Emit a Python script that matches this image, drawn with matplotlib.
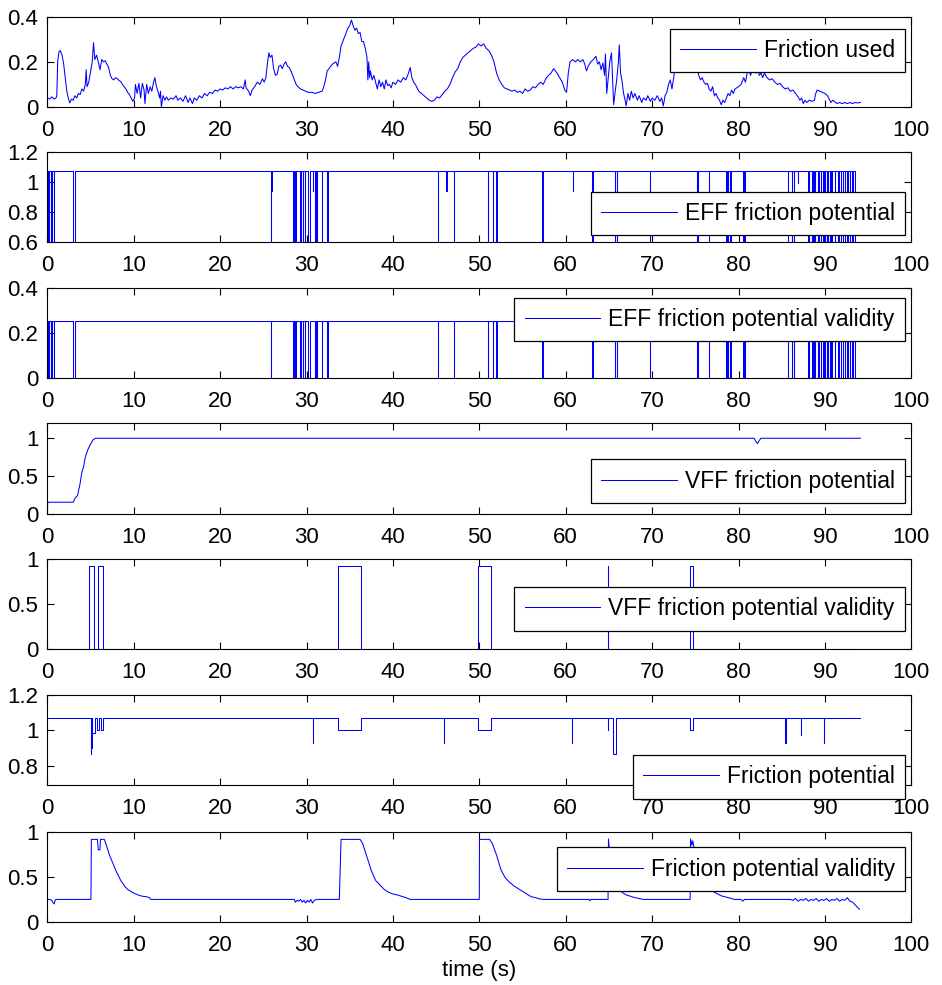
import numpy as np
import matplotlib
matplotlib.use("Agg")
import matplotlib.pyplot as plt
from matplotlib.ticker import FormatStrFormatter

plt.rcParams['font.family'] = ['Liberation Sans', 'DejaVu Sans']

T_END = 94.1

# ---- Friction used (time, value) ----
fu_t = [0.0, 0.3, 0.5, 0.8, 1.0, 1.1, 1.2, 1.35, 1.5, 1.7, 1.9, 2.1, 2.3, 2.5, 2.6, 2.8, 3.0, 3.2, 3.4, 3.6,
        3.8, 4.0, 4.2, 4.4, 4.5, 4.6, 4.8, 5.0, 5.2, 5.35, 5.5, 5.7, 5.9, 6.1, 6.3, 6.5, 6.7, 6.9, 7.1, 7.3,
        7.5, 7.7, 7.9, 8.1, 8.3, 8.5, 8.7, 8.9, 9.1, 9.3, 9.5, 9.7, 9.9, 10.1, 10.2, 10.4, 10.6, 10.8, 11.0, 11.2,
        11.3, 11.5, 11.7, 11.9, 12.1, 12.3, 12.45, 12.6, 12.8, 13.0, 13.1, 13.2, 13.4, 13.6, 13.8, 14.0, 14.3, 14.6, 14.9, 15.1,
        15.4, 15.7, 16.0, 16.3, 16.5, 16.8, 17.0, 17.3, 17.6, 17.9, 18.2, 18.5, 18.8, 19.1, 19.4, 19.7, 20.0, 20.3, 20.6, 20.9,
        21.2, 21.5, 21.8, 22.1, 22.4, 22.7, 22.9, 23.0, 23.3, 23.5, 23.7, 24.0, 24.3, 24.6, 24.9, 25.1, 25.3, 25.5, 25.65, 25.8,
        26.0, 26.2, 26.4, 26.6, 26.8, 27.0, 27.2, 27.4, 27.6, 27.8, 28.0, 28.2, 28.4, 28.6, 28.8, 29.0, 29.3, 29.6, 29.9, 30.2,
        30.6, 31.0, 31.4, 31.8, 32.0, 32.2, 32.4, 32.6, 32.8, 33.0, 33.2, 33.4, 33.6, 33.8, 34.0, 34.2, 34.4, 34.6, 34.8, 35.0,
        35.2, 35.4, 35.6, 35.8, 36.0, 36.2, 36.4, 36.6, 36.8, 37.0, 37.1, 37.2, 37.3, 37.4, 37.6, 37.8, 38.0, 38.2, 38.4, 38.6,
        38.8, 39.0, 39.2, 39.4, 39.6, 39.8, 40.0, 40.3, 40.6, 40.9, 41.2, 41.5, 41.8, 42.0, 42.2, 42.4, 42.6, 42.8, 43.0, 43.3,
        43.6, 43.9, 44.2, 44.5, 44.8, 45.1, 45.4, 45.7, 46.0, 46.3, 46.6, 46.9, 47.2, 47.5, 47.8, 48.1, 48.4, 48.7, 49.0, 49.3,
        49.6, 49.9, 50.2, 50.5, 50.8, 51.1, 51.4, 51.7, 52.0, 52.3, 52.6, 52.9, 53.2, 53.5, 53.8, 54.1, 54.4, 54.7, 55.0, 55.3,
        55.6, 55.9, 56.2, 56.5, 56.8, 57.1, 57.4, 57.7, 58.0, 58.3, 58.6, 58.8, 59.0, 59.3, 59.6, 59.9, 60.1, 60.3, 60.5, 60.8,
        61.1, 61.4, 61.7, 62.0, 62.2, 62.4, 62.6, 62.9, 63.2, 63.5, 63.7, 63.9, 64.1, 64.3, 64.5, 64.6, 64.75, 64.9, 65.1, 65.3,
        65.45, 65.55, 65.7, 65.9, 66.1, 66.2, 66.35, 66.5, 66.7, 66.85, 67.0, 67.2, 67.4, 67.6, 67.8, 68.0, 68.3, 68.5, 68.8, 69.0,
        69.3, 69.5, 69.8, 70.0, 70.3, 70.6, 70.9, 71.1, 71.3, 71.5, 71.7, 71.9, 72.1, 72.3, 72.5, 72.7, 72.9, 73.2, 73.6, 74.0,
        74.4, 74.8, 75.0, 75.2, 75.4, 75.6, 75.8, 76.0, 76.2, 76.4, 76.6, 76.8, 77.0, 77.2, 77.4, 77.6, 77.8, 78.0, 78.2, 78.4,
        78.6, 78.8, 79.0, 79.2, 79.4, 79.6, 79.8, 80.0, 80.3, 80.6, 80.8, 81.0, 81.2, 81.4, 81.6, 81.8, 82.0, 82.2, 82.4, 82.6,
        82.8, 83.0, 83.3, 83.6, 83.9, 84.2, 84.5, 84.8, 85.1, 85.4, 85.7, 86.0, 86.3, 86.6, 86.9, 87.1, 87.3, 87.5, 87.7, 87.9,
        88.2, 88.5, 88.8, 88.9, 89.1, 89.4, 89.7, 90.0, 90.3, 90.5, 90.7, 90.9, 91.1, 91.4, 91.7, 92.0, 92.3, 92.6, 92.9, 93.2,
        93.5, 93.8, 94.1]
fu_v = [0.04, 0.035, 0.045, 0.035, 0.04, 0.05, 0.2, 0.245, 0.25, 0.23, 0.19, 0.12, 0.06, 0.03, 0.018, 0.035, 0.03, 0.05, 0.04, 0.06,
        0.055, 0.08, 0.07, 0.1, 0.165, 0.09, 0.11, 0.155, 0.2, 0.285, 0.21, 0.23, 0.2, 0.165, 0.21, 0.2, 0.205, 0.19, 0.175, 0.14,
        0.125, 0.12, 0.13, 0.125, 0.118, 0.112, 0.1, 0.09, 0.08, 0.065, 0.055, 0.04, 0.025, 0.04, 0.1, 0.06, 0.105, 0.04, 0.105, 0.075,
        0.015, 0.1, 0.06, 0.09, 0.07, 0.11, 0.13, 0.095, 0.07, 0.04, 0.07, 0.0, 0.05, 0.03, 0.045, 0.03, 0.04, 0.035, 0.05, 0.03,
        0.04, 0.025, 0.05, 0.02, 0.04, 0.015, 0.04, 0.03, 0.05, 0.04, 0.06, 0.05, 0.065, 0.06, 0.075, 0.07, 0.08, 0.075, 0.085, 0.08,
        0.09, 0.08, 0.09, 0.085, 0.09, 0.08, 0.12, 0.085, 0.07, 0.05, 0.075, 0.09, 0.11, 0.1, 0.125, 0.11, 0.13, 0.2, 0.24, 0.22,
        0.23, 0.17, 0.14, 0.145, 0.18, 0.185, 0.17, 0.19, 0.2, 0.18, 0.175, 0.16, 0.14, 0.12, 0.1, 0.09, 0.08, 0.075, 0.07, 0.065,
        0.065, 0.06, 0.065, 0.07, 0.09, 0.12, 0.16, 0.17, 0.18, 0.19, 0.195, 0.2, 0.18, 0.22, 0.27, 0.29, 0.31, 0.33, 0.35, 0.36,
        0.385, 0.36, 0.34, 0.35, 0.325, 0.33, 0.29, 0.29, 0.26, 0.22, 0.12, 0.2, 0.13, 0.16, 0.12, 0.14, 0.11, 0.08, 0.12, 0.09,
        0.11, 0.08, 0.12, 0.095, 0.1, 0.085, 0.11, 0.1, 0.12, 0.11, 0.13, 0.12, 0.15, 0.175, 0.13, 0.11, 0.1, 0.085, 0.07, 0.06,
        0.05, 0.04, 0.03, 0.025, 0.03, 0.045, 0.04, 0.055, 0.07, 0.08, 0.1, 0.13, 0.155, 0.17, 0.2, 0.22, 0.23, 0.24, 0.25, 0.26,
        0.265, 0.28, 0.27, 0.28, 0.26, 0.25, 0.23, 0.2, 0.15, 0.12, 0.1, 0.085, 0.08, 0.075, 0.07, 0.075, 0.065, 0.07, 0.06, 0.08,
        0.07, 0.075, 0.09, 0.085, 0.1, 0.11, 0.1, 0.125, 0.14, 0.15, 0.17, 0.16, 0.15, 0.13, 0.11, 0.075, 0.065, 0.15, 0.2, 0.21,
        0.2, 0.21, 0.2, 0.21, 0.19, 0.16, 0.18, 0.2, 0.21, 0.225, 0.19, 0.2, 0.165, 0.195, 0.14, 0.235, 0.06, 0.12, 0.2, 0.24,
        0.1, 0.01, 0.06, 0.12, 0.2, 0.275, 0.15, 0.12, 0.06, 0.035, 0.005, 0.06, 0.03, 0.07, 0.04, 0.06, 0.03, 0.05, 0.02, 0.04,
        0.03, 0.05, 0.025, 0.04, 0.03, 0.05, 0.025, 0.04, 0.005, 0.05, 0.065, 0.1, 0.12, 0.08, 0.13, 0.19, 0.24, 0.26, 0.25, 0.24,
        0.22, 0.19, 0.165, 0.18, 0.14, 0.12, 0.13, 0.11, 0.1, 0.105, 0.08, 0.07, 0.09, 0.05, 0.06, 0.04, 0.03, 0.01, 0.03, 0.02,
        0.04, 0.06, 0.05, 0.075, 0.06, 0.08, 0.085, 0.09, 0.1, 0.13, 0.11, 0.15, 0.16, 0.14, 0.17, 0.16, 0.15, 0.17, 0.14, 0.15,
        0.13, 0.15, 0.13, 0.12, 0.125, 0.11, 0.1, 0.105, 0.09, 0.08, 0.085, 0.07, 0.075, 0.06, 0.045, 0.03, 0.04, 0.015, 0.03, 0.02,
        0.03, 0.025, 0.03, 0.055, 0.075, 0.07, 0.065, 0.06, 0.05, 0.035, 0.02, 0.03, 0.025, 0.015, 0.02, 0.015, 0.02, 0.015, 0.02, 0.015,
        0.02, 0.018, 0.02]

# ---- EFF friction potential / validity: drop events (start, end) ----
eff_drop_start = [0.0, 0.2, 0.48, 0.75, 3.0, 25.88, 28.45, 28.65, 29.3, 29.55, 29.8, 30.2, 31.0, 31.2, 31.75,
                  32.4, 45.2, 47.05, 51.0, 51.6, 51.95, 57.3, 63.1, 65.7, 65.9, 69.75, 75.15, 75.3, 76.6, 78.6,
                  78.75, 79.05, 80.55, 80.7, 85.7, 86.15, 86.4, 88.1, 88.45, 88.65, 88.85, 89.15, 89.3, 89.55, 89.8,
                  90.0, 90.3, 90.55, 90.75, 91.15, 91.55, 91.85, 92.1, 92.3, 92.6, 92.9, 93.15, 93.45]
eff_drop_end = [0.05, 0.23, 0.51, 0.78, 3.15, 25.92, 28.55, 28.75, 29.33, 29.6, 29.85, 30.35, 31.05, 31.25, 31.78,
                32.5, 45.23, 47.08, 51.03, 51.63, 52.0, 57.33, 63.18, 65.75, 65.98, 69.78, 75.18, 75.35, 76.63, 78.65,
                78.8, 79.08, 80.6, 80.75, 85.73, 86.18, 86.43, 88.15, 88.5, 88.7, 88.9, 89.2, 89.35, 89.6, 89.85,
                90.05, 90.35, 90.6, 90.8, 91.2, 91.6, 91.9, 92.15, 92.35, 92.65, 92.95, 93.2, 94.1]
eff_mid_start = [25.92, 30.7, 46.2, 60.8, 86.9]
eff_mid_end = [26.05, 30.74, 46.24, 60.84, 86.94]
eff_mid_level = [0.94, 0.94, 0.94, 0.94, 0.995]
EFF_HIGH, EFF_LOW = 1.075, 0.0
EFF_VALID_HIGH, EFF_VALID_LOW = 0.25, 0.0

# ---- VFF friction potential (time, value) ----
vff_t = [0.0, 0.05, 3.0, 3.2, 3.5, 3.8, 4.0, 4.2, 4.4, 4.7, 5.0, 5.3, 5.6, 81.8, 82.05, 82.2, 82.4, 82.6, 94.1]
vff_v = [0.0, 0.15, 0.15, 0.2, 0.24, 0.4, 0.55, 0.62, 0.75, 0.85, 0.92, 0.98, 1.0, 1.0, 0.95, 0.93, 0.97, 1.0, 1.0]

# ---- VFF friction potential validity: pulses ----
vff_valid_on = [4.85, 5.9, 33.7, 49.85, 64.85, 74.4]
vff_valid_off = [5.4, 6.4, 36.25, 51.3, 64.92, 74.7]
VFF_VALID_HIGH = 0.92

# ---- Friction potential: dips below nominal ----
fp_dip_start = [5.0, 5.06, 5.2, 5.8, 6.2, 30.7, 33.7, 45.9, 49.85, 60.7, 64.85, 65.5, 74.4, 85.4, 87.2, 89.9]
fp_dip_end = [5.06, 5.2, 5.5, 5.95, 6.4, 30.74, 36.25, 45.94, 51.3, 60.74, 64.92, 65.85, 74.7, 85.44, 87.24, 89.94]
fp_dip_level = [0.865, 0.9, 0.985, 1.0, 1.0, 0.93, 1.0, 0.93, 1.0, 0.93, 1.0, 0.865, 1.0, 0.93, 0.975, 0.93]
FP_NOMINAL = 1.07

# ---- Friction potential validity (time, value) ----
fpv_t = [0.0, 0.02, 0.3, 0.5, 0.7, 0.8, 0.9, 1.0, 5.05, 5.1, 5.8, 5.9, 6.1, 6.15, 6.6, 6.8, 7.0, 7.2, 7.5, 7.8,
         8.0, 8.3, 8.5, 8.8, 9.0, 9.3, 9.5, 9.8, 10.0, 10.5, 11.0, 11.5, 11.8, 12.0, 28.6, 28.7, 28.9, 29.1, 29.3, 29.5,
         29.7, 29.9, 30.1, 30.3, 30.5, 30.7, 30.9, 31.2, 33.8, 34.0, 36.2, 36.5, 37.0, 37.5, 38.0, 38.5, 39.0, 39.5, 40.0, 40.5,
         41.0, 41.5, 42.0, 50.0, 50.02, 51.2, 51.5, 52.0, 52.5, 53.0, 53.5, 54.0, 54.5, 55.0, 55.5, 56.0, 56.5, 57.0, 57.5, 62.7,
         62.8, 62.9, 64.9, 64.95, 65.05, 65.3, 65.6, 66.0, 66.5, 67.0, 67.5, 68.0, 68.5, 69.0, 74.4, 74.45, 74.6, 74.7, 74.9, 75.1,
         76.0, 77.0, 78.0, 79.0, 79.5, 80.3, 80.5, 80.7, 86.0, 86.3, 86.6, 86.9, 87.2, 87.5, 87.8, 88.1, 88.4, 88.7, 89.0, 89.3,
         89.6, 89.9, 90.2, 90.5, 90.8, 91.1, 91.4, 91.7, 92.0, 92.3, 92.6, 92.9, 93.2, 93.5, 93.8, 94.0]
fpv_v = [0.13, 0.25, 0.25, 0.24, 0.21, 0.2, 0.24, 0.25, 0.25, 0.915, 0.915, 0.8, 0.8, 0.915, 0.915, 0.86, 0.8, 0.74, 0.67, 0.6,
         0.555, 0.5, 0.46, 0.42, 0.39, 0.36, 0.35, 0.33, 0.32, 0.3, 0.285, 0.28, 0.27, 0.25, 0.25, 0.22, 0.24, 0.23, 0.25, 0.22,
         0.24, 0.21, 0.24, 0.22, 0.25, 0.21, 0.24, 0.25, 0.25, 0.915, 0.915, 0.87, 0.72, 0.57, 0.46, 0.41, 0.36, 0.33, 0.31, 0.3,
         0.285, 0.27, 0.25, 0.25, 0.915, 0.915, 0.87, 0.74, 0.58, 0.49, 0.44, 0.4, 0.37, 0.34, 0.31, 0.28, 0.27, 0.255, 0.25, 0.25,
         0.235, 0.25, 0.25, 0.92, 0.8, 0.5, 0.4, 0.37, 0.33, 0.3, 0.285, 0.27, 0.26, 0.25, 0.25, 0.92, 0.85, 0.9, 0.8, 0.43,
         0.38, 0.34, 0.29, 0.265, 0.25, 0.25, 0.23, 0.25, 0.25, 0.24, 0.26, 0.23, 0.25, 0.24, 0.26, 0.23, 0.25, 0.24, 0.26, 0.23,
         0.25, 0.24, 0.26, 0.23, 0.25, 0.24, 0.26, 0.23, 0.25, 0.24, 0.27, 0.23, 0.22, 0.19, 0.16, 0.14]

labels = ["Friction used", "EFF friction potential", "EFF friction potential validity",
          "VFF friction potential", "VFF friction potential validity", "Friction potential",
          "Friction potential validity"]
ylims = [(0, 0.4), (0.6, 1.2), (0, 0.4), (0, 1.2), (0, 1), (0.69, 1.2), (0, 1)]
yticks = [[0, 0.2, 0.4], [0.6, 0.8, 1, 1.2], [0, 0.2, 0.4], [0, 0.5, 1], [0, 0.5, 1], [0.8, 1, 1.2], [0, 0.5, 1]]
xticks = list(range(0, 101, 10))


def step_signal(base, starts, ends, levels, t_end):
    """Piecewise-constant signal at `base` with excursions to `levels` on [start, end]."""
    t, v = [0.0], [base]
    for s, e, lv in zip(starts, ends, levels):
        t += [s, s, e]
        v += [v[-1], lv, lv]
        if e < t_end:
            t.append(e)
            v.append(base)
    if t[-1] < t_end:
        t.append(t_end)
        v.append(v[-1])
    return np.array(t), np.array(v)


def merged_events(starts, ends, levels, starts2, ends2, levels2):
    ev = sorted(zip(list(starts) + list(starts2), list(ends) + list(ends2), list(levels) + list(levels2)))
    return [e[0] for e in ev], [e[1] for e in ev], [e[2] for e in ev]


s2, e2, l2 = merged_events(eff_drop_start, eff_drop_end, [EFF_LOW] * len(eff_drop_start),
                           eff_mid_start, eff_mid_end, eff_mid_level)
eff_t, eff_v = step_signal(EFF_HIGH, s2, e2, l2, T_END)
effv_t, effv_v = step_signal(EFF_VALID_HIGH, eff_drop_start, eff_drop_end,
                             [EFF_VALID_LOW] * len(eff_drop_start), T_END)
vffv_t, vffv_v = step_signal(0.0, vff_valid_on, vff_valid_off, [VFF_VALID_HIGH] * len(vff_valid_on), T_END)
fp_t, fp_v = step_signal(FP_NOMINAL, fp_dip_start, fp_dip_end, fp_dip_level, T_END)

series = [(fu_t, fu_v), (eff_t, eff_v), (effv_t, effv_v), (vff_t, vff_v),
          (vffv_t, vffv_v), (fp_t, fp_v), (fpv_t, fpv_v)]

W, H = 942, 985
fig = plt.figure(figsize=(W / 100, H / 100), dpi=100)
left_px, right_px = 47.3, 911.3
tops_px = [16.7, 151.7, 287.5, 423.2, 558.8, 695.0, 831.7]
height_px = 90.3
legend_right_px = 905.0
legend_top_px = [28.7, 191.7, 297.5, 459.5, 587.0, 755.0, 847.3]

for i, ((t, v), lab) in enumerate(zip(series, labels)):
    ax = fig.add_axes([left_px / W, 1 - (tops_px[i] + height_px) / H,
                       (right_px - left_px) / W, height_px / H])
    ax.plot(t, v, color='#0000ff', lw=0.75, label=lab)
    ax.set_xlim(0, 100)
    ax.set_ylim(*ylims[i])
    ax.set_xticks(xticks)
    ax.set_yticks(yticks[i])
    ax.yaxis.set_major_formatter(FormatStrFormatter('%g'))
    ax.tick_params(direction='in', top=True, right=True, length=5, width=0.8,
                   labelsize=16)
    ax.tick_params(axis='x', pad=9.5)
    ax.tick_params(axis='y', pad=6.5)
    for sp in ax.spines.values():
        sp.set_linewidth(0.8)
    leg = ax.legend(loc='upper right',
                    bbox_to_anchor=(legend_right_px / W, 1 - legend_top_px[i] / H),
                    bbox_transform=fig.transFigure, borderaxespad=0,
                    fontsize=16.5, handlelength=3.3, handletextpad=0.35,
                    borderpad=0.45, fancybox=False, framealpha=1,
                    edgecolor='black')
    leg.get_frame().set_linewidth(0.9)
    if i == len(series) - 1:
        ax.set_xlabel('time (s)', fontsize=16, labelpad=3)

fig.savefig('out.png', dpi=100)
